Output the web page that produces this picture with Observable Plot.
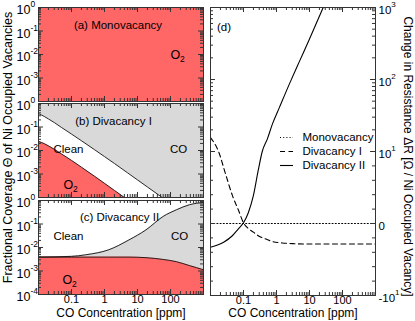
<!DOCTYPE html>
<html><head><meta charset="utf-8">
<script src="https://cdn.jsdelivr.net/npm/d3@7"></script>
<script src="https://cdn.jsdelivr.net/npm/@observablehq/plot@0.6"></script>
<style>
body{margin:0;background:#fff;}
#c{position:relative;width:415px;height:321px;background:#fff;overflow:hidden;}
#c svg{position:absolute;left:0;top:0;}
</style></head><body><div id="c"></div>
<script>
// ---------------- data ----------------
const ppmDomain = [0.01, 1000];
const xTickVals = [0.1, 1, 10, 100];
const xTickText = ["0.1", "1", "10", "100"];
const covExpAB = [0, -1, -2, -3];
const covExpC = [0, -1, -2, -3, -4];

// (a) Monovacancy - O2 coverage
const monoPpm = [0.01, 1000];
const monoO2 = [1, 1];

// (b) Divacancy I - O2 coverage and O2 + clean (upper boundary of white region)
const divIPpm = [0.01, 0.015, 0.02, 0.03, 0.05, 0.1, 0.2, 0.5, 1, 2, 5, 10, 20, 50, 100, 200, 500, 1000];
const divIO2 = [0.0245, 0.0195, 0.0158, 0.0113, 0.0071, 0.0038, 0.00195, 0.0008, 0.0004, 0.0002, 0.00008, 0.00004, 0.00002, 0.000008, 0.000004, 0.000002, 0.0000008, 0.0000004];
const divIO2Clean = [0.37, 0.28, 0.22, 0.155, 0.095, 0.05, 0.026, 0.0108, 0.0055, 0.0028, 0.00112, 0.00056, 0.00028, 0.000112, 0.000056, 0.000028, 0.0000112, 0.0000056];

// (c) Divacancy II - O2 coverage and O2 + CO
const divIIPpm = [0.01, 0.1, 0.27, 1.35, 5.5, 18, 60, 150, 375, 1000];
const divIIO2 = [0.0039, 0.0039, 0.0039, 0.0039, 0.0039, 0.0037, 0.0031, 0.0025, 0.0017, 0.00113];
const divIIO2CO = [0.0039, 0.0042, 0.0049, 0.008, 0.021, 0.056, 0.21, 0.40, 0.66, 0.82];

// (d) change in resistance
const resMonoPpm = [0.01, 1000];
const resMono = [0, 0];
const resDivIPpm = [0.01, 0.0175, 0.0285, 0.046, 0.071, 0.1, 0.14, 0.2, 0.28, 0.5, 0.75, 1.5, 3, 10, 100, 1000];
const resDivI = [15.6, 10, 6.9, 3.9, 1.8, 0.1, -0.7, -1.2, -1.7, -2.2, -2.5, -2.7, -2.8, -2.85, -2.85, -2.85];
const resDivIIPpm = [0.01, 0.025, 0.046, 0.071, 0.1, 0.14, 0.2, 0.28, 0.37, 0.53, 0.75, 1.2, 2.6, 5, 10, 26];
const resDivII = [-3.3, -2.6, -1.7, -0.7, 0.1, 1.5, 3.9, 7.4, 10, 15, 24, 40, 92, 180, 365, 1000];
const resTickVals = [-10, 0, 10, 100, 1000];
const resTickBase = ["-10", "0", "10", "10", "10"];
const resTickExp = ["1", "", "1", "2", "3"];
const resMinor = [-8, -6, -4, -2, 2, 4, 6, 8, 20, 30, 40, 50, 60, 70, 80, 90, 200, 300, 400, 500, 600, 700, 800, 900];
const legendNames = ["Monovacancy", "Divacancy I", "Divacancy II"];

// ---------------- helpers ----------------
const W = 415, H = 321;
const FONT = '"Liberation Sans", Arial, Helvetica, sans-serif';
const RED = "#ff6666", GRAY = "#d9d9d9", AX = "#333";
const zip = (ps, vs, ws) => ps.map((p, i) => ({p, v: vs[i], w: ws ? ws[i] : undefined}));

function logTicks(e0, e1) {
  const major = [], minor = [];
  for (let e = e0; e <= e1; e++) {
    major.push(+(10 ** e).toPrecision(6));
    if (e < e1) for (let k = 2; k <= 9; k++) minor.push(+(k * 10 ** e).toPrecision(6));
  }
  return {major, minor};
}
const xT = logTicks(-2, 3);
const yT = logTicks(-4, 0);

function frameTicks(yMaj, yMin, pw, ph, yf) {
  const s = {stroke: AX, strokeWidth: 1};
  return [
    Plot.tickX(xT.major, {x: d => d, insetTop: ph - 5, ...s}),
    Plot.tickX(xT.major, {x: d => d, insetBottom: ph - 5, ...s}),
    Plot.tickX(xT.minor, {x: d => d, insetTop: ph - 3, ...s}),
    Plot.tickX(xT.minor, {x: d => d, insetBottom: ph - 3, ...s}),
    Plot.tickY(yMaj, {y: yf, insetRight: pw - 5, ...s}),
    Plot.tickY(yMaj, {y: yf, insetLeft: pw - 5, ...s}),
    Plot.tickY(yMin, {y: yf, insetRight: pw - 3, ...s}),
    Plot.tickY(yMin, {y: yf, insetLeft: pw - 3, ...s}),
    Plot.frame({stroke: AX, strokeWidth: 1})
  ];
}

function covLabels(exps) {
  return [
    Plot.text(exps, {y: e => 10 ** e, text: () => "10", frameAnchor: "left", textAnchor: "end", dx: -8, dy: 2.5, fontSize: 12.5}),
    Plot.text(exps, {y: e => 10 ** e, text: e => String(e), frameAnchor: "left", textAnchor: "start", dx: -8, dy: -3, fontSize: 8.5})
  ];
}
function xLabels() {
  return Plot.text(xTickVals, {x: d => d, text: (d, i) => xTickText[i], frameAnchor: "bottom", textAnchor: "middle", lineAnchor: "top", dy: 1, fontSize: 11});
}
function note(str, dx, dy, size = 11.5) {
  return Plot.text([str], {frameAnchor: "top-left", textAnchor: "middle", dx, dy, fontSize: size});
}
function o2(dx, dy) {
  return [
    Plot.text(["O"], {frameAnchor: "top-left", textAnchor: "start", dx, dy, fontSize: 12.5}),
    Plot.text(["2"], {frameAnchor: "top-left", textAnchor: "start", dx: dx + 9.5, dy: dy + 5.5, fontSize: 8.5})
  ];
}

function mount(svg) {
  svg.style.position = "absolute"; svg.style.left = "0px"; svg.style.top = "0px";
  document.getElementById("c").appendChild(svg);
}

function covPanel(t, b, marks) {
  const l = 38, r = 203;
  mount(Plot.plot({
    width: W, height: H,
    marginLeft: l, marginRight: W - r, marginTop: t, marginBottom: H - b,
    x: {type: "log", domain: ppmDomain, axis: null},
    y: {type: "log", domain: [1e-4, 1], axis: null},
    style: {background: "transparent", fontFamily: FONT, fontSize: "12px", color: "#000", overflow: "visible"},
    marks: [...marks, ...frameTicks(yT.major, yT.minor, r - l, b - t, d => d)]
  }));
}

const curve = "monotone-x";
const line = {stroke: "#111", strokeWidth: 0.9, curve, clip: true};

// (a)
const monoData = zip(monoPpm, monoO2);
covPanel(7, 101, [
  Plot.areaY(monoData, {x: "p", y1: 1e-9, y2: "v", fill: RED, curve, clip: true}),
  ...covLabels(covExpAB),
  note("(a) Monovacancy", 79.5, 13),
  ...o2(132, 43)
]);

// (b)
const divIData = zip(divIPpm, divIO2, divIO2Clean);
covPanel(103, 197, [
  Plot.areaY(divIData, {x: "p", y1: "w", y2: 1, fill: GRAY, curve, clip: true}),
  Plot.areaY(divIData, {x: "p", y1: 1e-9, y2: "v", fill: RED, curve, clip: true}),
  Plot.line(divIData, {x: "p", y: "w", ...line}),
  Plot.line(divIData, {x: "p", y: "v", ...line}),
  ...covLabels(covExpAB),
  note("(b) Divacancy I", 75, 13),
  note("Clean", 30, 41.5),
  note("CO", 140, 41.5),
  ...o2(25, 77),
  Plot.text(["Fractional Coverage \u0398 of Ni Occupied Vacancies"], {frameAnchor: "left", textAnchor: "middle", lineAnchor: "middle", rotate: -90, dx: -31, dy: -3, fontSize: 12.5})
]);

// (c)
const divIIData = zip(divIIPpm, divIIO2, divIIO2CO);
covPanel(200, 294, [
  Plot.areaY(divIIData, {x: "p", y1: "v", y2: "w", fill: GRAY, curve, clip: true}),
  Plot.areaY(divIIData, {x: "p", y1: 1e-9, y2: "v", fill: RED, curve, clip: true}),
  Plot.line(divIIData, {x: "p", y: "w", ...line}),
  Plot.line(divIIData, {x: "p", y: "v", ...line}),
  ...covLabels(covExpC),
  xLabels(),
  note("(c) Divacancy II", 81, 12),
  note("Clean", 30, 31),
  note("CO", 141, 31),
  ...o2(24, 75),
  Plot.text(["CO Concentration [ppm]"], {frameAnchor: "bottom", textAnchor: "middle", lineAnchor: "middle", dy: 19, fontSize: 12})
]);

// (d) resistance, linear within ±10, logarithmic beyond
const tr = v => Math.abs(v) <= 10 ? v / 10 : Math.sign(v) * (1 + Math.log10(Math.abs(v) / 10));
const D = {l: 210, r: 375, t: 7, b: 295};
const dLine = {x: "p", y: d => tr(d.v), stroke: "#000", strokeWidth: 1.1, curve, clip: true};
const resIdx = resTickVals.map((v, i) => i);
const shortIdx = resIdx.filter(i => resTickBase[i].length <= 2);
const longIdx = resIdx.filter(i => resTickBase[i].length > 2);
mount(Plot.plot({
  width: W, height: H,
  marginLeft: D.l, marginRight: W - D.r, marginTop: D.t, marginBottom: H - D.b,
  x: {type: "log", domain: ppmDomain, axis: null},
  y: {type: "linear", domain: [-1, 3], axis: null},
  style: {background: "transparent", fontFamily: FONT, fontSize: "12px", color: "#000", overflow: "visible"},
  marks: [
    Plot.line(zip(resMonoPpm, resMono), {...dLine, strokeDasharray: "1,2.2"}),
    Plot.line(zip(resDivIPpm, resDivI), {...dLine, strokeDasharray: "5,3.5"}),
    Plot.line(zip(resDivIIPpm, resDivII), dLine),
    ...frameTicks(resTickVals, resMinor, D.r - D.l, D.b - D.t, d => tr(d)),
    Plot.text(resIdx, {y: i => tr(resTickVals[i]), text: i => resTickBase[i], frameAnchor: "right", textAnchor: "start", dx: 3, dy: 2.5, fontSize: 11.5}),
    Plot.text(shortIdx, {y: i => tr(resTickVals[i]), text: i => resTickExp[i], frameAnchor: "right", textAnchor: "start", dx: 15.8, dy: -3, fontSize: 8}),
    Plot.text(longIdx, {y: i => tr(resTickVals[i]), text: i => resTickExp[i], frameAnchor: "right", textAnchor: "start", dx: 19.6, dy: -3, fontSize: 8}),
    xLabels(),
    Plot.text(["CO Concentration [ppm]"], {frameAnchor: "bottom", textAnchor: "middle", lineAnchor: "middle", dy: 18, fontSize: 12}),
    note("(d)", 13.5, 15),
    Plot.text(["Change in Resistance \u0394R [\u03a9 / Ni Occupied Vacancy]"], {frameAnchor: "right", textAnchor: "middle", lineAnchor: "middle", rotate: 90, dx: 32, dy: 5, fontSize: 12})
  ]
}));

// legend for (d)
mount(Plot.plot({
  width: W, height: H,
  marginLeft: 280, marginRight: W - 293, marginTop: 137, marginBottom: H - 165.5,
  y: {type: "point", domain: legendNames, padding: 0, axis: null},
  style: {background: "transparent", fontFamily: FONT, fontSize: "12px", color: "#000", overflow: "visible"},
  marks: [
    Plot.tickY([legendNames[0]], {y: d => d, stroke: "#000", strokeWidth: 1.1, strokeDasharray: "1,2.2"}),
    Plot.tickY([legendNames[1]], {y: d => d, stroke: "#000", strokeWidth: 1.1, strokeDasharray: "5,3.5"}),
    Plot.tickY([legendNames[2]], {y: d => d, stroke: "#000", strokeWidth: 1.1}),
    Plot.text(legendNames, {y: d => d, text: d => d, frameAnchor: "right", textAnchor: "start", dx: 9, fontSize: 11.5})
  ]
}));
</script>
</body></html>
